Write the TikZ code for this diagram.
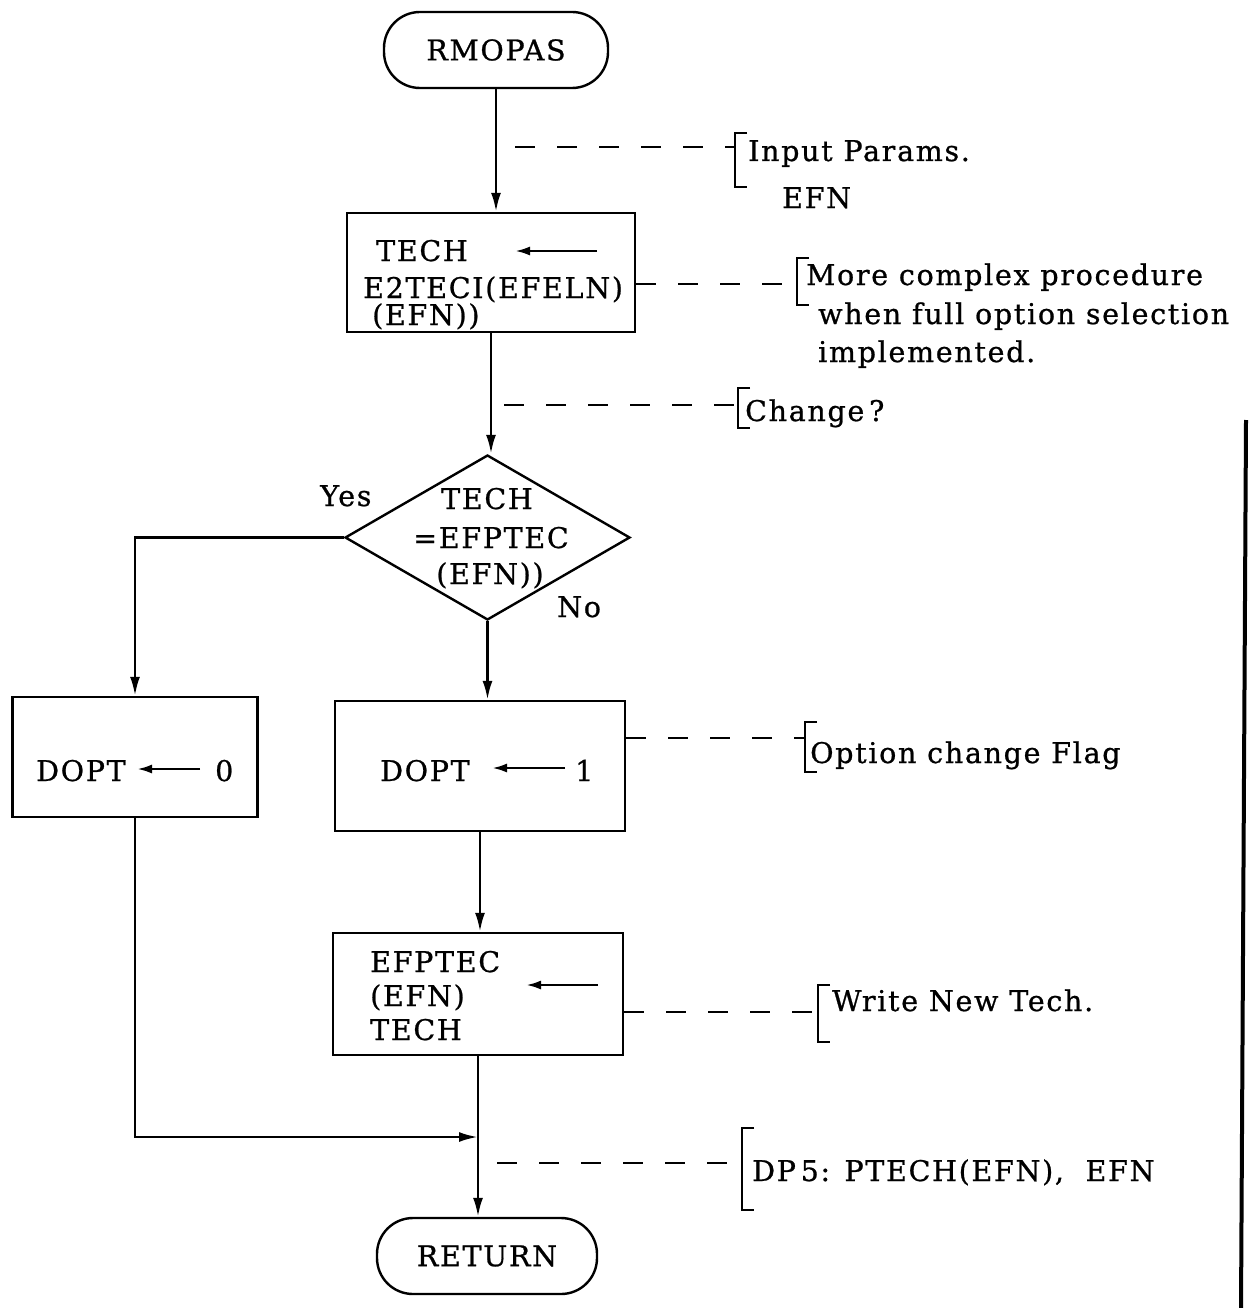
\documentclass[tikz,border=0pt]{standalone}
\usepackage{fontspec}
\setmainfont{DejaVu Serif}[LetterSpace=6,FakeBold=0.8]
\usetikzlibrary{arrows.meta,shapes.geometric,calc}
\begin{document}
\begin{tikzpicture}[x=1pt,y=-1pt,
  every node/.style={font=\fontsize{28.5}{32}\selectfont, inner sep=0pt},
  term/.style={draw, line width=2.4pt, rounded corners=36pt, minimum width=224pt, minimum height=76pt},
  proc/.style={draw, line width=2.4pt, rectangle},
  dec/.style={draw, line width=2.4pt, diamond, inner sep=0pt},
  txt/.style={anchor=base west},
  ctxt/.style={anchor=base},
  flow/.style={line width=2.6pt},
  arr/.style={flow, -{Latex[length=19pt,width=10pt]}},
  inarr/.style={line width=2.6pt, -{Latex[length=15pt,width=9pt]}},
  dashln/.style={line width=2pt, dash pattern=on 20pt off 22pt},
  brk/.style={line width=2.4pt},
]
\useasboundingbox (0,0) rectangle (1248,1308);

% ---------- main nodes ----------
\node[term] (start) at (496,50) {RMOPAS};
\node[proc, minimum width=288pt, minimum height=119pt] (b1) at (491,272.5) {};
\node[txt] (b1a) at (376,261) {TECH};
\node[txt] (b1b) at (363,298) {E2TECI(EFELN)};
\node[txt] (b1c) at (372,325) {(EFN))};
\draw[inarr] (597,251) -- (515,251);

\node[dec, minimum width=285pt, minimum height=165pt] (d) at (487.5,537.5) {};
\node[ctxt] (d1) at (487,509) {TECH};
\node[ctxt] (d2) at (491,548) {=EFPTEC};
\node[ctxt] (d3) at (490,584) {(EFN))};
\node[txt] (yes) at (320,506) {Yes};
\node[txt] (no) at (557,617) {No};

\node[proc, minimum width=245pt, minimum height=120pt] (b0) at (135,757) {};
\node[txt] (b0a) at (36,781) {DOPT};
\node[txt] (b0b) at (215,781) {0};
\draw[inarr] (200,769) -- (137,769);

\node[proc, minimum width=290pt, minimum height=130pt] (b2) at (480,766) {};
\node[txt] (b2a) at (380,781) {DOPT};
\node[txt] (b2b) at (575,781) {1};
\draw[inarr] (565,768) -- (492,768);

\node[proc, minimum width=290pt, minimum height=122pt] (b3) at (478,994) {};
\node[txt] (b3a) at (370,972) {EFPTEC};
\node[txt] (b3b) at (370,1006) {(EFN)};
\node[txt] (b3c) at (370,1040) {TECH};
\draw[inarr] (598,985) -- (526,985);

\node[term, minimum width=220pt] (end) at (487,1256) {RETURN};

% ---------- connectors ----------
\draw[arr] (start.south) -- (start.south |- b1.north);
\draw[arr] (b1.south) -- (b1.south |- d.north);
\draw[arr] (d.south) -- (d.south |- b2.north);
\draw[arr] (b2.south) -- (b2.south |- b3.north);
\draw[arr] (b3.south) -- (b3.south |- end.north);
\draw[arr] (d.west) -| (b0.north);
\coordinate (join) at (b3.south |- 0,1137);
\draw[arr] (b0.south) |- (join);

% ---------- annotations ----------
\coordinate (k1) at (735,147);
\draw[dashln] ($(start.south |- k1)+(19,0)$) -- (k1);
\draw[brk] (747,133) -- (735,133) -- (735,187) -- (747,187);
\node[txt] (t1) at (748,161) {Input Params.};
\node[txt] (t1b) at (782,208) {EFN};

\coordinate (k2) at (797,284);
\draw[dashln] (b1.east |- k2) -- (k2);
\draw[brk] (809,258) -- (797,258) -- (797,305) -- (809,305);
\node[txt] (t2) at (806,285) {More complex procedure};
\node[txt] (t2b) at (818,324) {when full option selection};
\node[txt] (t2c) at (818,362) {implemented.};

\coordinate (k3) at (738,405);
\draw[dashln] ($(b1.south |- k3)+(13,0)$) -- (k3);
\draw[brk] (750,388) -- (738,388) -- (738,428) -- (750,428);
\node[txt] (t3) at (745,421) {Change\,?};

\coordinate (k4) at (805,738);
\draw[dashln] (b2.east |- k4) -- (k4);
\draw[brk] (817,722) -- (805,722) -- (805,772) -- (817,772);
\node[txt] (t4) at (810,763) {Option change Flag};

\coordinate (k5) at (818,1012);
\draw[dashln] (b3.east |- k5) -- (k5);
\draw[brk] (830,985) -- (818,985) -- (818,1042) -- (830,1042);
\node[txt] (t5) at (832,1011) {Write New Tech.};

\coordinate (k6) at (742,1163);
\draw[dashln] ($(b3.south |- k6)+(19,0)$) -- (k6);
\draw[brk] (754,1128) -- (742,1128) -- (742,1210) -- (754,1210);
\node[txt] (t6) at (752,1181) {DP\,5: PTECH(EFN),\ \ EFN};

% page edge
\draw[line width=4pt] (1246,420) -- (1241,1308);
\end{tikzpicture}
\end{document}
